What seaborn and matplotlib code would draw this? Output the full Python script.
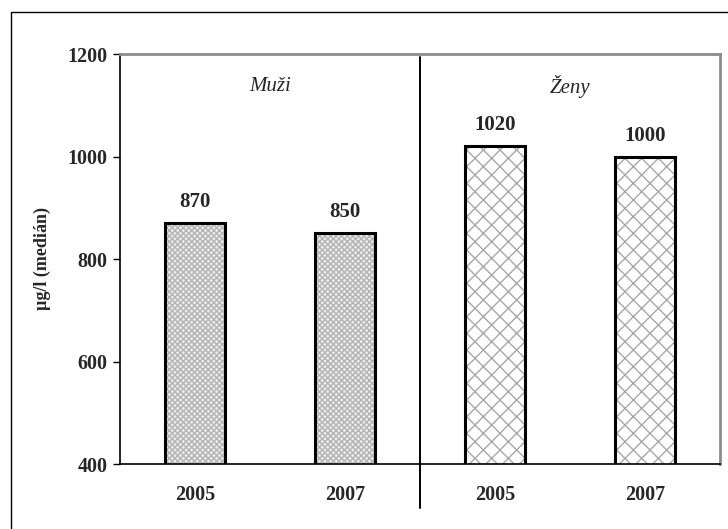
import matplotlib
matplotlib.use("Agg")
import matplotlib.pyplot as plt
import matplotlib.transforms as mtransforms
from matplotlib.patches import Rectangle
import seaborn as sns
import pandas as pd

# Data
groups = ["Muži", "Muži", "Ženy", "Ženy"]
years = ["2005", "2007", "2005", "2007"]
values = [870, 850, 1020, 1000]
y_ticks = [400, 600, 800, 1000, 1200]

df = pd.DataFrame({"group": groups, "year": years, "value": values})
df["key"] = df["group"] + " " + df["year"]
order = list(df["key"])

sns.set_theme(style="white")
plt.rcParams["font.family"] = ["Liberation Serif", "DejaVu Serif"]
plt.rcParams["hatch.linewidth"] = 1.0

fig = plt.figure(figsize=(7.28, 5.29), dpi=100)
ax = fig.add_axes([120 / 728, 1 - 464 / 529, 600 / 728, 410 / 529])

sns.barplot(data=df, x="key", y="value", order=order, width=0.4,
            color="white", ax=ax, errorbar=None, saturation=1)

# Fill patterns: fine dotted pattern for men, cross-hatch for women
bars = list(ax.patches)
for patch, grp in zip(bars, groups):
    if grp == "Muži":
        patch.set_facecolor("#ececec")
        patch.set_hatch("xxxxxx")
        patch.set_edgecolor("#b4b4b4")
    else:
        patch.set_facecolor("white")
        patch.set_hatch("xx")
        patch.set_edgecolor("#a8a8a8")
    patch.set_linewidth(0)
    ax.add_patch(Rectangle(patch.get_xy(), patch.get_width(), patch.get_height(),
                           fill=False, edgecolor="black", linewidth=2.2, zorder=5))

# Value labels above bars
for patch, v in zip(bars, values):
    ax.annotate(f"{v}", (patch.get_x() + patch.get_width() / 2, v),
                xytext=(0, 11.5), textcoords="offset points", ha="center",
                va="baseline", fontsize=15, fontweight="bold")

ax.set_ylim(400, 1200)
ax.set_xlim(-0.5, 3.5)
ax.set_yticks(y_ticks)
ax.set_yticklabels([str(t) for t in y_ticks], fontsize=14.5, fontweight="bold")
ax.set_xticks(range(4))
ax.set_xticklabels(years, fontsize=14.5, fontweight="bold")
ax.tick_params(axis="x", which="major", length=0, pad=15)
ax.set_xticks([-0.5, 0.5, 1.5, 2.5, 3.5], minor=True)
ax.tick_params(axis="x", which="minor", length=5, width=1, direction="out", color="black")
ax.tick_params(axis="y", length=5, width=1, direction="out", color="black", left=True, pad=4)
ax.set_xlabel("")
ax.set_ylabel("µg/l (medián)", fontsize=13, fontweight="bold", labelpad=12)

for side in ["left", "bottom"]:
    ax.spines[side].set_color("black")
    ax.spines[side].set_linewidth(1.2)
for side in ["top", "right"]:
    ax.spines[side].set_color("#8c8c8c")
    ax.spines[side].set_linewidth(2)

# Separator between the two groups
trans = mtransforms.blended_transform_factory(ax.transData, ax.transAxes)
ax.plot([1.5, 1.5], [0.993, -0.107], color="black", lw=1.4, transform=trans, clip_on=False)

# Group titles
for gx, name in [(0.5, "Muži"), (2.5, "Ženy")]:
    ax.text(gx, 0.92, name, transform=trans, ha="center", va="center",
            fontsize=15, fontstyle="italic")

# Outer frame
fig.patches.append(Rectangle((11 / 728, -0.1), 1.2, 1.1 - 12 / 529, fill=False,
                             edgecolor="black", linewidth=1, transform=fig.transFigure))

fig.savefig("out.png", dpi=100)
